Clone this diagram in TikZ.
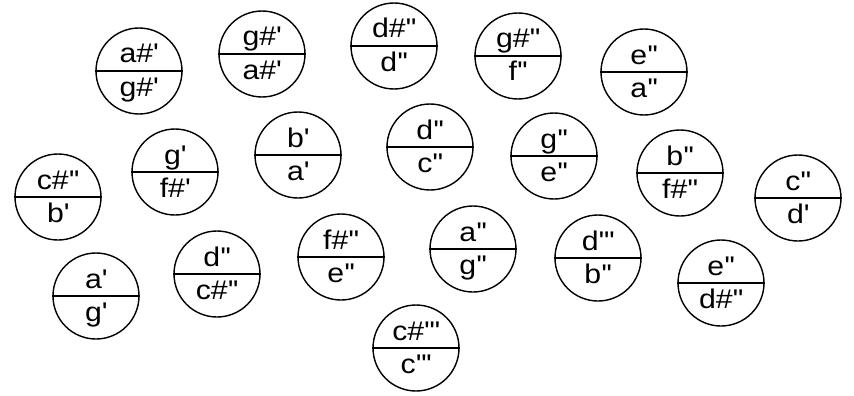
\documentclass[tikz,border=0pt]{standalone}
\usepackage{fontspec}
\setmainfont{Liberation Sans}[FakeStretch=1.12]
\usetikzlibrary{calc}
\newcommand{\q}{\textquotesingle}
\newcommand{\nd}[5]{%
  \node[disc] (#1) at (#2,#3) {};
  \draw[divline] (#1.west) -- (#1.east);
  \node[lbl] (#1-t) at ($(#1)+(0,-8)$) {#4};
  \node[lbl] (#1-b) at ($(#1)+(0,25)$) {#5};
}
\begin{document}
\begin{tikzpicture}[x=1pt,y=-1pt,
  disc/.style={draw,circle,minimum size=86pt,inner sep=0pt,line width=1.4pt},
  divline/.style={line width=1.4pt},
  lbl/.style={anchor=base,inner sep=0pt,font=\fontsize{27}{30}\selectfont}]
\useasboundingbox (0,0) rectangle (854,396);
\nd{n1}{139}{71}{a\#\q}{g\#\q}
\nd{n2}{262}{54}{g\#\q}{a\#\q}
\nd{n3}{394}{46}{d\#\q\q}{d\q\q}
\nd{n4}{518}{56}{g\#\q\q}{f\q\q}
\nd{n5}{644}{72}{e\q\q}{a\q\q}
\nd{n6}{58}{197}{c\#\q\q}{b\q}
\nd{n7}{175}{172}{g\q}{f\#\q}
\nd{n8}{298}{155}{b\q}{a\q}
\nd{n9}{430}{147}{d\q\q}{c\q\q}
\nd{n10}{554}{156}{g\q\q}{e\q\q}
\nd{n11}{680}{173}{b\q\q}{f\#\q\q}
\nd{n12}{798}{198}{c\q\q}{d\q}
\nd{n13}{96}{296}{a\q}{g\q}
\nd{n14}{217}{274}{d\q\q}{c\#\q\q}
\nd{n15}{341}{257}{f\#\q\q}{e\q\q}
\nd{n16}{416}{348}{c\#\q\q\q}{c\q\q\q}
\nd{n17}{473}{249}{a\q\q}{g\q\q}
\nd{n18}{598}{258}{d\q\q\q}{b\q\q}
\nd{n19}{721}{283}{e\q\q}{d\#\q\q}
\end{tikzpicture}
\end{document}
